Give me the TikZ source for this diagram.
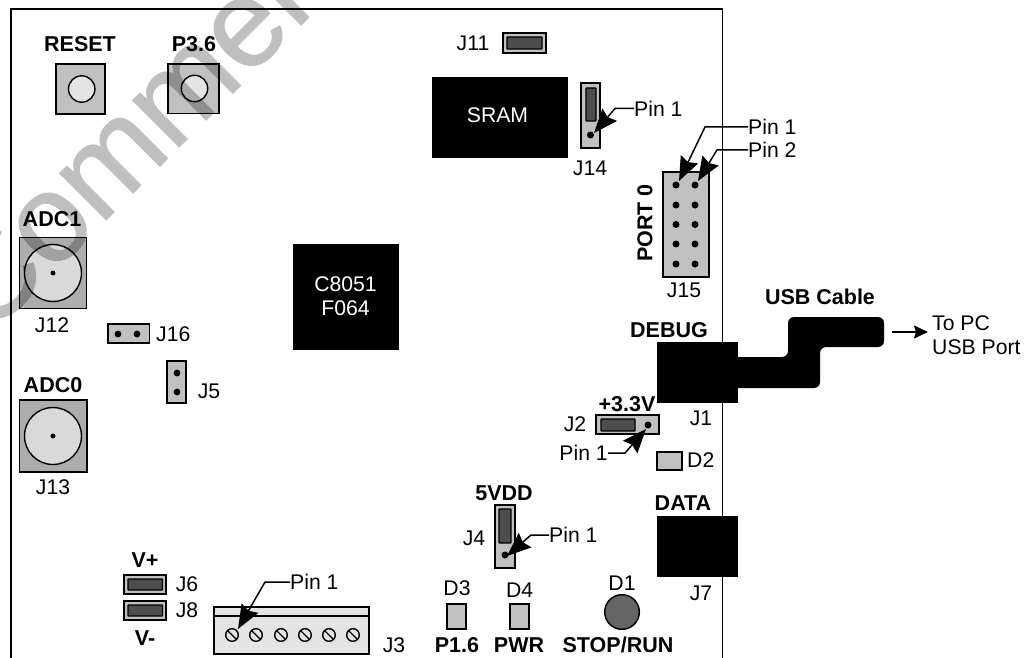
\documentclass[tikz,border=0pt]{standalone}
\usepackage{fontspec}
\setmainfont{Liberation Sans}
\newfontfamily\wmfont[FakeBold=1]{Liberation Sans}
\usetikzlibrary{arrows.meta}
\definecolor{pcb}{HTML}{C0C0C0}
\definecolor{lite}{HTML}{E4E4E4}
\definecolor{jump}{HTML}{4D4D4D}
\tikzset{
  lab/.style={inner sep=0pt,font=\fontsize{21.2}{24}\selectfont,align=center},
  blab/.style={lab,font=\fontsize{21.5}{24}\selectfont\bfseries},
  wlab/.style={lab,text=white},
  part/.style={draw=black,line width=1.4pt,fill=pcb},
  chip/.style={fill=black,draw=black,line width=.5pt},
  jumper/.style={draw=black,line width=1.2pt,fill=jump,rounded corners=.5pt},
  pinline/.style={draw=black,line width=1.5pt,-{Stealth[length=24pt,width=19pt,inset=3pt]}},
  hole/.style={fill=black},
}
\begin{document}
\begin{tikzpicture}[x=1pt,y=-1pt]
\useasboundingbox (0,0) rectangle (1026,658);
\begin{scope}
\clip (0,0) rectangle (1026,658);
% board outline
\draw[line width=1.5pt] (11,658) -- (11,9) -- (722.7,9) -- (722.7,658);
% buttons
\draw[part] (56,64) rectangle (105,114);
\draw[draw=black,line width=1.4pt,fill=lite] (81.7,89) circle (13.2);
\draw[part] (168,64) rectangle (219,113.5);
\draw[draw=black,line width=1.4pt,fill=lite] (194.5,88.5) circle (13.2);
\node[blab] (reset) at (80,44) {RESET};
\node[blab] (p36) at (194,44) {P3.6};
% ADC
\draw[part,fill=pcb!90!black] (19.5,237.5) rectangle (86.5,308.5);
\draw[draw=black,line width=1.4pt,fill=lite!95!black] (53,273) circle (28.5);
\fill[hole] (53,273) circle (2.5);
\node[blab] (adc1) at (52,219) {ADC1};
\node[lab] (j12) at (52,325) {J12};
\draw[part,fill=pcb!90!black] (19.5,400) rectangle (87,472);
\draw[draw=black,line width=1.4pt,fill=lite!95!black] (53,436) circle (28.5);
\fill[hole] (53,436) circle (2.5);
\node[blab] (adc0) at (53,385) {ADC0};
\node[lab] (j13) at (53,487) {J13};
% J16 / J5
\draw[part] (108,324) rectangle (149.5,343);
\fill[hole] (118,334) circle (3.4) (137,334) circle (3.4);
\node[lab,anchor=west] (j16) at (156,334) {J16};
\draw[part] (167,361) rectangle (186,403);
\fill[hole] (177,373) circle (3.4) (177,392) circle (3.4);
\node[lab] (j5) at (209,391.5) {J5};
% C8051
\draw[chip] (293,244) rectangle (398,349);
\node[wlab] (mcu) at (345.5,296.5) {\fontsize{21.2}{25}\selectfont C8051\\F064};
% J11
\draw[part] (503,33) rectangle (546,53);
\draw[jumper] (507,37) rectangle (542,49);
\node[lab] (j11) at (473,43) {J11};
% SRAM
\draw[chip] (432,77) rectangle (567,157);
\node[wlab] (sram) at (497.5,115) {SRAM};
% J14
\draw[part] (581,83) rectangle (600,148);
\draw[jumper] (586,88) rectangle (596,121);
\fill[hole] (590.5,135) circle (3.5);
\node[lab] (j14) at (590,168) {J14};
\node[lab,anchor=west] (pin14) at (634,108.5) {Pin 1};
\coordinate (t14) at (594,133);
\draw[pinline] (pin14.west) -- (615,108.5) -- (t14);
% J15
\draw[part] (663,172) rectangle (709,277);
\foreach \yy in {185,205,224.5,244,264}{
  \fill[hole] (676,\yy) circle (3.5) (695,\yy) circle (3.5);
}
\node[blab,rotate=90] (port0) at (645,223) {PORT 0};
\node[lab] (j15) at (684,290) {J15};
\node[lab,anchor=west] (pin15a) at (748,127) {Pin 1};
\node[lab,anchor=west] (pin15b) at (748,150) {Pin 2};
\coordinate (t15a) at (679,181);
\coordinate (t15b) at (698,181);
\draw[pinline] (pin15a.west) -- (705,127) -- (t15a);
\draw[pinline] (pin15b.west) -- (717,150) -- (t15b);
% USB cable
\fill[black,rounded corners=6pt] (720,357) -- (788,357) -- (788,317) -- (884,317) -- (884,347) -- (820,347) -- (820,388) -- (720,388) -- cycle;
% J1
\draw[chip] (657,342) rectangle (737,402);
\node[blab] (debug) at (669,330) {DEBUG};
\node[lab] (j1) at (701,418) {J1};
\node[blab] (usb) at (820,297) {USB Cable};
\coordinate (cableend) at (892,332);
\node[lab,anchor=west,align=left] (topc) at (932,335.5) {\fontsize{21.2}{25}\selectfont To PC\\USB Port};
\draw[line width=1.5pt,-{Stealth[length=14pt,width=13pt,inset=2pt]}] (cableend) -- ([xshift=-4pt]topc.west |- cableend);
% J2
\node[blab] (v33) at (627,404) {+3.3V};
\draw[part] (596,415) rectangle (659,434);
\draw[jumper] (601,419) rectangle (635,431);
\fill[hole] (648,425) circle (3.5);
\node[lab] (j2) at (575,424) {J2};
\node[lab,anchor=east] (pin2) at (608,453) {Pin 1};
\coordinate (t2) at (646,429);
\draw[pinline] (pin2.east) -- (625,453) -- (t2);
% D2
\draw[part] (657,452) rectangle (682,470);
\node[lab,anchor=west] (d2) at (687,460) {D2};
% J7
\draw[chip] (657,516) rectangle (737,576);
\node[blab] (data) at (683,503) {DATA};
\node[lab] (j7) at (701,593) {J7};
% J4
\node[blab] (vdd) at (504,493) {5VDD};
\draw[part] (495,505) rectangle (515,568);
\draw[jumper] (499,509) rectangle (511,543);
\fill[hole] (505,555) circle (3.5);
\node[lab] (j4) at (474,538) {J4};
\node[lab,anchor=west] (pin4) at (549,535) {Pin 1};
\coordinate (t4) at (507,556);
\draw[pinline] (pin4.west) -- (531,535) -- (t4);
% LEDs
\node[lab] (d3) at (457,588) {D3};
\draw[part] (447,604) rectangle (466,629);
\node[blab] (p16) at (457,645) {P1.6};
\node[lab] (d4) at (519.7,590) {D4};
\draw[part] (510,604) rectangle (529,629);
\node[blab] (pwr) at (519,645) {PWR};
\node[lab] (d1) at (622,583) {D1};
\draw[draw=black,line width=1.5pt,fill=black!60] (622,612) circle (17.3);
\node[blab] (stop) at (618,645) {STOP/RUN};
% J6 J8
\node[blab] (vp) at (145,560) {V+};
\draw[part] (124,575) rectangle (166,594);
\draw[jumper] (128,579) rectangle (162.5,590);
\node[lab] (j6) at (187,584) {J6};
\draw[part] (124,601) rectangle (166,620);
\draw[jumper] (128,605) rectangle (162.5,616);
\node[lab] (j8) at (187,610) {J8};
\node[blab] (vm) at (145,638) {V-};
% J3
\draw[part,fill=lite] (214,607) rectangle (369,654);
\draw[line width=1.4pt] (214,616) -- (369,616);
\foreach \xx in {232,256,281,305,329,353}{
  \draw[line width=1.4pt,fill=lite] (\xx,635) circle (6.3);
  \draw[line width=1.4pt] (\xx-4.4,635-4.4) -- (\xx+4.4,635+4.4);
}
\node[lab] (j3) at (394,645) {J3};
\node[lab,anchor=west] (pin3) at (290,582) {Pin 1};
\coordinate (t3) at (238,629);
\draw[pinline] (pin3.west) -- (265,582) -- (t3);
% watermark
\begin{scope}[transparency group,opacity=.25]
\node[anchor=base west,inner sep=0pt,rotate=45,font=\wmfont\fontsize{124}{124}\selectfont] (wm) at (-12,338) {Commercial};
\end{scope}
\end{scope}
\end{tikzpicture}
\end{document}
